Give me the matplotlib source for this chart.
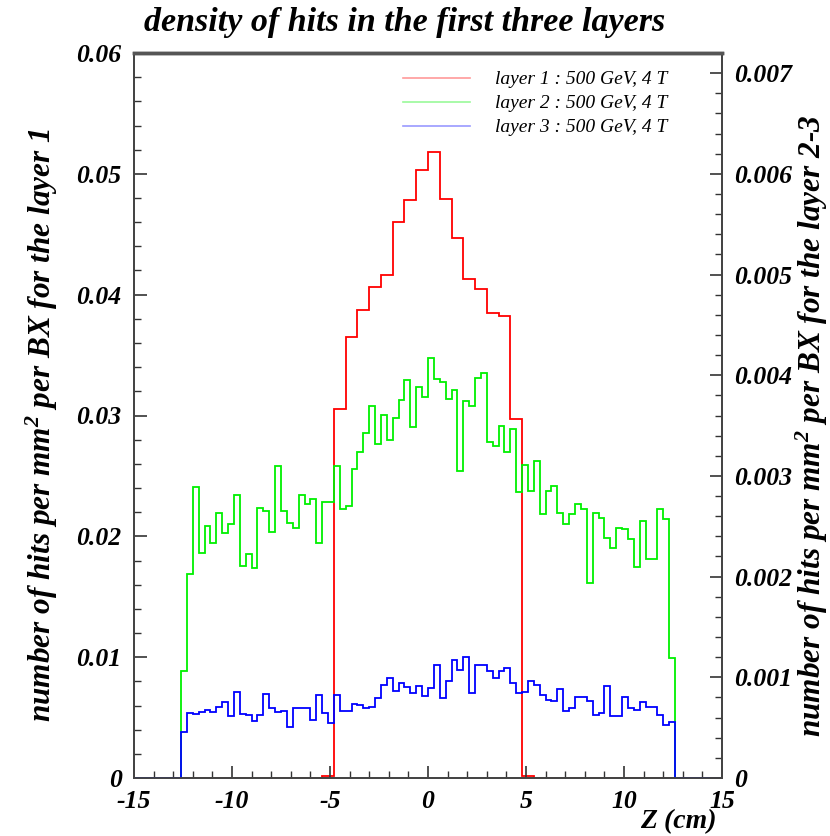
import numpy as np
import matplotlib
matplotlib.use("Agg")
import matplotlib.pyplot as plt
from matplotlib.lines import Line2D

plt.rcParams['font.family'] = ['Liberation Serif', 'DejaVu Serif']
plt.rcParams['mathtext.fontset'] = 'custom'
plt.rcParams['mathtext.rm'] = 'Liberation Serif:bold:italic'
plt.rcParams['mathtext.it'] = 'Liberation Serif:bold:italic'
plt.rcParams['mathtext.bf'] = 'Liberation Serif:bold:italic'

# ---------------- data ----------------
title = "density of hits in the first three layers"
xlabel = "Z (cm)"
ylabel_left = "number of hits per mm$^{2}$ per BX for the layer 1"
ylabel_right = "number of hits per mm$^{2}$ per BX for the layer 2-3"
legend_labels = ["layer 1 : 500 GeV, 4 T", "layer 2 : 500 GeV, 4 T", "layer 3 : 500 GeV, 4 T"]

z_min, z_max = -15.0, 15.0
layer1_nbins = 50      # 0.6 cm bins
layer23_nbins = 100    # 0.3 cm bins

# layer 1 (left axis), 50 bins from -15 to 15
layer1 = ([0.0] * 16 + [0.0002] +
          [0.0305, 0.0365, 0.0387, 0.0406, 0.0416, 0.0460, 0.0478, 0.0503,
           0.0518, 0.0479, 0.0447, 0.0413, 0.0405, 0.0385, 0.0382, 0.0297] +
          [0.0002] + [0.0] * 16)

# layer 2 (right axis), non-zero bins from -12.6 to 12.6
layer2_core = [1.059, 2.029, 2.885, 2.231, 2.503, 2.337, 2.636, 2.430, 2.520, 2.812,
               2.105, 2.221, 2.088, 2.679, 2.653, 2.443, 3.094, 2.653, 2.537, 2.487,
               2.812, 2.719, 2.769, 2.337, 2.742, 2.742, 3.094, 2.669, 2.702, 3.068,
               3.240, 3.426, 3.699, 3.317, 3.606, 3.360, 3.576, 3.758, 3.957, 3.490,
               3.888, 3.782, 4.173, 3.964, 3.931, 3.765, 3.858, 3.045, 3.742, 3.699,
               3.971, 4.021, 3.340, 3.300, 3.493, 3.237, 3.462, 2.843, 3.110, 2.855,
               3.151, 2.620, 2.855, 2.902, 2.636, 2.520, 2.620, 2.719, 2.676, 1.939,
               2.629, 2.586, 2.387, 2.288, 2.487, 2.470, 2.371, 2.098, 2.553, 2.178,
               2.178, 2.676, 2.570, 1.192]  # x 1e-3

# layer 3 (right axis), non-zero bins from -12.6 to 12.6
layer3_core = [0.461, 0.644, 0.634, 0.651, 0.677, 0.651, 0.710, 0.754, 0.611, 0.853,
               0.634, 0.627, 0.568, 0.627, 0.833, 0.700, 0.651, 0.667, 0.511, 0.694,
               0.694, 0.700, 0.578, 0.820, 0.644, 0.544, 0.820, 0.661, 0.667, 0.734,
               0.721, 0.700, 0.710, 0.793, 0.920, 0.993, 0.866, 0.942, 0.900, 0.843,
               0.909, 0.810, 0.893, 1.119, 0.794, 0.966, 1.175, 1.076, 1.202, 0.843,
               1.126, 1.126, 1.059, 0.993, 1.059, 1.093, 0.943, 0.843, 0.850, 0.966,
               0.926, 0.827, 0.777, 0.760, 0.886, 0.670, 0.700, 0.803, 0.803, 0.767,
               0.621, 0.644, 0.916, 0.611, 0.611, 0.803, 0.694, 0.677, 0.754, 0.710,
               0.710, 0.627, 0.528, 0.561]  # x 1e-3
layer23_pad = 8   # empty 0.3 cm bins on each side

left_ylim = (0.0, 0.06)
right_ylim = (0.0, 0.0072)

# ---------------- figure ----------------
W, H = 830, 836
fig = plt.figure(figsize=(W / 100, H / 100), dpi=100)
ax_l, ax_r, ax_b, ax_t = 134, 722, 778, 53
ax = fig.add_axes([ax_l / W, 1 - ax_b / H, (ax_r - ax_l) / W, (ax_b - ax_t) / H])
ax2 = ax.twinx()

edges1 = np.linspace(z_min, z_max, layer1_nbins + 1)
edges23 = np.linspace(z_min, z_max, layer23_nbins + 1)
layer2 = np.array([0.0] * layer23_pad + layer2_core + [0.0] * layer23_pad) * 1e-3
layer3 = np.array([0.0] * layer23_pad + layer3_core + [0.0] * layer23_pad) * 1e-3

red, green, blue = '#ff0000', '#00f000', '#0000ff'
ax.stairs(layer1, edges1, color=red, lw=1.3)
ax2.stairs(layer2, edges23, color=green, lw=1.3)
ax2.stairs(layer3, edges23, color=blue, lw=1.3)

ax.set_xlim(z_min, z_max)
ax.set_ylim(*left_ylim)
ax2.set_ylim(*right_ylim)

tfont = dict(family='Liberation Serif', style='italic', weight='bold')

ax.set_xticks(np.arange(-15, 16, 5))
ax.set_xticks(np.arange(-15, 15.1, 1), minor=True)
ax.set_yticks(np.arange(0, 0.0601, 0.01))
ax.set_yticks(np.arange(0, 0.0601, 0.002), minor=True)
ax2.set_yticks(np.arange(0, 0.00701, 0.001))
ax2.set_yticks(np.arange(0, 0.00721, 0.0002), minor=True)

ax.set_xticklabels(['-15', '-10', '-5', '0', '5', '10', '15'])
ax.set_yticklabels(['0', '0.01', '0.02', '0.03', '0.04', '0.05', '0.06'])
ax2.set_yticklabels(['0', '0.001', '0.002', '0.003', '0.004', '0.005', '0.006', '0.007'])

for a in (ax, ax2):
    a.tick_params(which='major', direction='in', length=9, width=1.2, color='#333333')
    a.tick_params(which='minor', direction='in', length=5, width=1.0, color='#333333')
ax.tick_params(axis='x', which='both', top=False, pad=9)
ax.tick_params(axis='y', which='both', right=False, pad=9)
ax2.tick_params(axis='y', which='both', left=False, right=True, pad=9)
for lab in ax.get_xticklabels() + ax.get_yticklabels() + ax2.get_yticklabels():
    lab.set_fontsize(18.5)
    lab.set_fontfamily('Liberation Serif')
    lab.set_fontstyle('italic')
    lab.set_fontweight('bold')

for a in (ax, ax2):
    for s in a.spines.values():
        s.set_color('#444444')
        s.set_linewidth(1.3)
    a.spines['top'].set_linewidth(2.5)
    a.spines['top'].set_color('#555555')

fig.text(405 / W, 1 - 22 / H, title, ha='center', va='center', fontsize=24.5, **tfont)
fig.text(717 / W, 1 - 822 / H, xlabel, ha='right', va='center', fontsize=20, **tfont)
fig.text(42 / W, 1 - 425 / H, ylabel_left, ha='center', va='center', rotation=90, fontsize=22.5, **tfont)
fig.text(812 / W, 1 - 426 / H, ylabel_right, ha='center', va='center', rotation=90, fontsize=22.5, **tfont)

handles = [Line2D([], [], color=c, lw=1.2, alpha=0.4) for c in (red, green, blue)]
ax2.legend(handles, legend_labels, loc='upper right', bbox_to_anchor=(677 / W, 1 - 61 / H),
           bbox_transform=fig.transFigure, frameon=False,
           prop=dict(family='Liberation Serif', style='italic', size=14),
           handlelength=3.45, handletextpad=1.3, labelspacing=0.33, borderpad=0.0)

fig.savefig('out.png', dpi=100)
